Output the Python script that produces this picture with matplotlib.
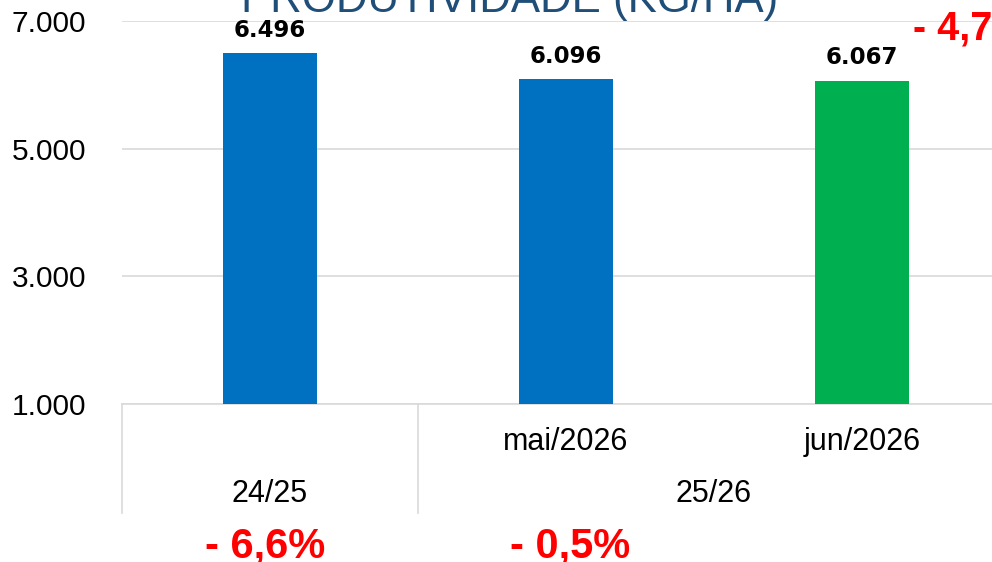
import matplotlib
matplotlib.use("Agg")
import matplotlib.pyplot as plt
from matplotlib.transforms import blended_transform_factory

# ─── dados ────────────────────────────────────────────────────────────────────
meses = ["", "mai/2026", "jun/2026"]
safras = ["24/25", "25/26"]
safra_pos = [0, 1.5]          # centro de cada safra no eixo x
produtividade = [6496, 6096, 6067]
cores = ["#0070C0", "#0070C0", "#00B050"]
variacoes = ["- 6,6%", "- 0,5%"]
variacao_topo = "- 4,7%"
yticks = [1000, 3000, 5000, 7000]

W, H = 992, 562
fig = plt.figure(figsize=(W / 100, H / 100), dpi=100)
ax = fig.add_axes([122 / W, 1 - 404 / H, 888 / W, 383 / H])

x = list(range(len(produtividade)))
ax.bar(x, produtividade, width=0.318, color=cores, bottom=0, zorder=3)
ax.set_xlim(-0.5, 2.5)
ax.set_ylim(1000, 7000)

ax.set_yticks(yticks)
ax.set_yticklabels([f"{v:,}".replace(",", ".") for v in yticks],
                   fontsize=21.5, family="Liberation Sans")
ax.tick_params(axis="y", length=0, pad=26)
ax.tick_params(axis="x", length=0, labelbottom=False)
ax.grid(axis="y", color="#D9D9D9", linewidth=1.2, zorder=0)
for s in ["top", "right", "left"]:
    ax.spines[s].set_visible(False)
ax.spines["bottom"].set_color("#D9D9D9")
ax.spines["bottom"].set_linewidth(1.2)

# rótulos dos valores
for xi, v in zip(x, produtividade):
    ax.annotate(f"{v:,}".replace(",", "."), (xi, v), xytext=(0, 8),
                textcoords="offset points", ha="center", va="bottom",
                fontsize=16.5, fontweight="bold", family="DejaVu Sans",
                color="black", zorder=4)

# eixo de categorias em dois níveis
tr = blended_transform_factory(ax.transData, ax.transAxes)
for xi, m in zip(x, meses):
    ax.text(xi, -0.098, m, transform=tr, ha="center", va="center",
            fontsize=22, family="Liberation Sans")
for xp, s in zip(safra_pos, safras):
    ax.text(xp, -0.235, s, transform=tr, ha="center", va="center",
            fontsize=22, family="Liberation Sans")
for xs in [-0.5, 0.5]:
    ax.plot([xs, xs], [0, -0.285], transform=tr, color="#D9D9D9",
            linewidth=1.2, clip_on=False)

# título (cortado no topo)
fig.text(241 / W, 1 - 12 / H, "PRODUTIVIDADE (KG/HA)", ha="left",
         va="baseline", fontsize=31.5, color="#1F4E79", family="Liberation Sans")

# variações em vermelho
for xc, t in zip([265, 570], variacoes):
    fig.text(xc / W, 1 - 557 / H, t, ha="center", va="baseline",
             fontsize=30, fontweight="bold", color="#FF0000",
             family="Liberation Sans")
fig.text(913 / W, 1 - 39 / H, variacao_topo, ha="left", va="baseline",
         fontsize=28.5, fontweight="bold", color="#FF0000",
         family="Liberation Sans")

fig.savefig("out.png", dpi=100)
